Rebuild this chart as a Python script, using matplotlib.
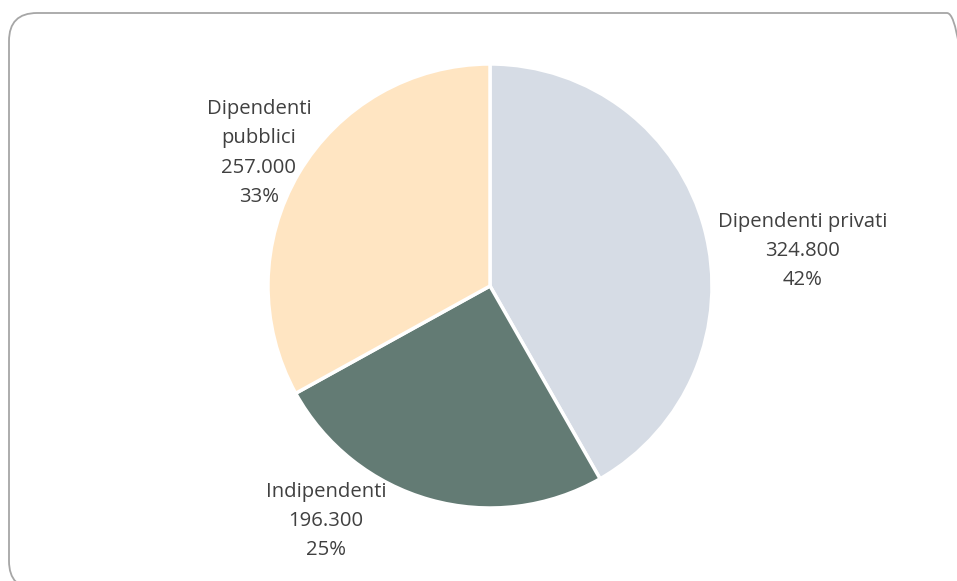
import numpy as np
import matplotlib.pyplot as plt
from matplotlib.patches import FancyBboxPatch

categories = ["Dipendenti privati", "Indipendenti", "Dipendenti\npubblici"]
values = [324800, 196300, 257000]
colors = ["#D6DCE5", "#637B74", "#FFE5C2"]

W, H = 957, 581
fig = plt.figure(figsize=[W / 100, H / 100], dpi=100)
ax = fig.add_axes([0, 0, 1, 1])
ax.set_xlim(0, W)
ax.set_ylim(0, H)
ax.set_aspect("equal")
ax.axis("off")

# rounded frame (runs off right/bottom edges like the original)
frame = FancyBboxPatch((9, -8), 966, H - 13 + 8, boxstyle="round,pad=0,rounding_size=28",
                       facecolor="none", edgecolor="#A6A6A6", linewidth=1.3)
ax.add_patch(frame)

ax.pie(values, colors=colors, startangle=90, counterclock=False,
       center=(490, H - 286), radius=222,
       wedgeprops=dict(edgecolor="white", linewidth=2.5))
ax.set_xlim(0, W)
ax.set_ylim(0, H)

total = sum(values)
def fmt(v):
    return "{:,}".format(v).replace(",", ".")

label_pos = [(803, 251), (326, 521), (259, 153)]
for cat, v, (x, y) in zip(categories, values, label_pos):
    txt = "{}\n{}\n{:.0f}%".format(cat, fmt(v), 100 * v / total)
    ax.text(x, H - y, txt, ha="center", va="center", fontsize=14.6,
            color="#404040", family="Open Sans", linespacing=1.62)

fig.savefig("out.png", dpi=100)
